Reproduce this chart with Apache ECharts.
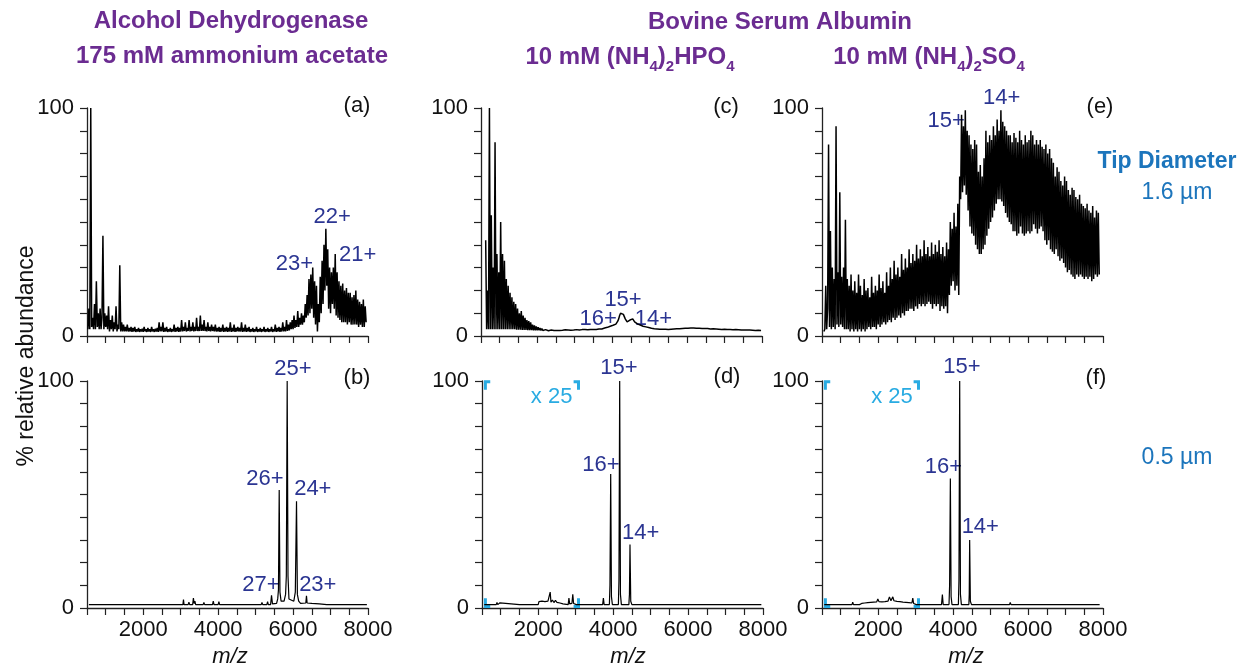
<!DOCTYPE html>
<html>
<head>
<meta charset="utf-8">
<script src="https://cdn.jsdelivr.net/npm/echarts@6/dist/echarts.min.js"></script>
<style>
    html, body { margin: 0; padding: 0; background: #fff; }
    #main { width: 1246px; height: 668px; }
</style>
</head>
<body>
<div id="main"></div>
<script>
    // dense spectra (a), (c), (e): one value every 25 m/z starting at 500, 20 values per row (= 500 m/z)
    var mzStart = 500, mzStep = 25;

    var specA = [
        null, 3, 12, 3, 100, 4, 8, 3, 14, 3, 24, 4, 10, 3, 12, 3, 8, 44, 3, 10,
        4, 9, 3, 13, 2, 7, 3, 9, 2, 6, 3, 13, 2, 5, 3, 31, 2, 6, 2, 5,
        2, 4, 2, 5, 2, 3.5, 2, 4, 1.8, 3.5, 2, 4, 1.8, 3, 2, 3.5, 1.8, 3, 2, 3.2,
        1.8, 4, 2, 3, 1.8, 3.5, 2, 3, 1.8, 4, 2, 3, 1.8, 3.2, 2, 3.5, 1.8, 6, 2, 4,
        2, 6, 1.8, 3.5, 2, 4, 1.8, 3, 2, 3.5, 1.8, 3, 2, 5, 1.8, 3.5, 2, 4, 1.8, 3.5,
        2, 7, 2, 4, 2.2, 6, 2, 3.5, 2.2, 7, 2, 4, 2.2, 6, 2, 4, 2.2, 8, 2.2, 4,
        2.2, 9, 2.2, 5, 2.2, 7, 2.2, 4, 2, 6, 2.2, 4, 2, 5, 2.2, 4, 2, 5, 2, 3.5,
        2, 4, 1.8, 3.5, 2, 5, 1.8, 3.5, 2, 4, 1.8, 3.5, 2, 6, 1.8, 3.5, 2, 5, 1.8, 3.5,
        2, 4, 2, 3.5, 2, 6, 1.8, 3.5, 2, 5, 1.8, 3.5, 2, 4, 1.8, 3, 2, 3.5, 1.8, 3,
        2, 4, 1.8, 3, 2, 3.5, 1.8, 3, 2, 4, 1.8, 3, 2, 3.5, 1.8, 3, 2, 4, 1.8, 3,
        2, 5, 1.8, 3.5, 2, 4, 1.8, 3.5, 2, 6, 2, 4, 2, 7, 2.2, 5, 2.5, 6, 3, 7,
        3, 9, 3.5, 7, 4, 11, 4, 8, 5, 10, 5, 9, 6, 14, 8, 18, 9, 25, 10, 27,
        12, 30, 8, 24, 5, 22, 2, 14, 6, 26, 10, 33, 14, 40, 20, 47, 22, 38, 12, 30,
        10, 28, 14, 30, 12, 36, 9, 28, 8, 24, 7, 22, 6, 23, 6, 20, 6, 21, 5, 19,
        6, 19, 5, 17, 5, 18, 5, 20, 5, 16, 4, 15, 5, 14, 4, 16, 4, 13, 6, null
    ];

    var specC = [
        null, null, null, null, null, 42, 3, 20, 3, 100, 3, 53, 3, 30, 3, 85, 3, 36, 3, 28,
        3, 50, 3, 36, 3, 33, 3, 25, 3, 22, 3, 19, 3, 17, 3, 15, 3, 14, 2.8, 12,
        2.8, 10, 2.8, 11, 2.7, 9, 2.7, 8, 2.7, 7, 2.6, 6.5, 2.6, 6, 2.6, 5, 2.5, 4.6, 2.5, 4.2,
        2.5, 3.8, 2.5, 3.5, 2.4, 3.3, 2.4, 3, 2.4, 2.8, 2.4, 2.7, 2.3, 2.6, 2.3, 2.6, 2.4, 2.5, 2.4, 2.5,
        2.3, 2.4, 2.5, 2.4, 2.4, 2.5, 2.6, 2.5, 2.5, 2.6, 2.7, 2.6, 2.5, 2.6, 2.6, 2.5, 2.5, 2.6, 2.7, 2.6,
        2.6, 2.7, 2.8, 2.7, 2.7, 2.6, 2.6, 2.7, 2.8, 2.8, 2.7, 2.8, 2.9, 2.8, 2.7, 2.7, 2.8, 2.9, 2.9, 2.8,
        2.8, 2.9, 3, 2.9, 2.9, 3, 3.1, 3, 3, 3.1, 3.3, 3.2, 3.5, 3.4, 3.6, 3.8, 4, 4.2, 4.3, 4.4,
        4.5, 4.7, 5, 5.1, 5.2, 5.6, 6.5, 7.5, 9, 10, 10.8, 10.2, 9.5, 8.5, 7.5, 6.8, 6.2, 5.8, 6.2, 7,
        7.6, 7.8, 7.5, 6.8, 6.2, 5.8, 5.5, 5.3, 5.2, 5, 4.8, 4.6, 4.5, 4.3, 4.2, 4.1, 4, 3.9, 3.8, 3.7,
        3.6, 3.5, 3.4, 3.3, 3.2, 3.2, 3.2, 3.1, 3.1, 3.1, 3, 3, 3, 3, 3, 2.9, 2.9, 3, 3, 2.9,
        2.9, 3, 3, 3, 3, 3.1, 3.1, 3.1, 3.1, 3.2, 3.2, 3.2, 3.2, 3.3, 3.3, 3.3, 3.3, 3.4, 3.4, 3.3,
        3.3, 3.4, 3.4, 3.5, 3.5, 3.4, 3.4, 3.5, 3.5, 3.4, 3.4, 3.5, 3.5, 3.4, 3.4, 3.3, 3.3, 3.4, 3.4, 3.3,
        3.2, 3.3, 3.3, 3.2, 3.2, 3.1, 3.1, 3.2, 3.2, 3.1, 3, 3.1, 3.1, 3, 3, 3, 3, 2.9, 2.9, 3,
        3, 2.9, 2.8, 2.9, 2.9, 2.8, 2.8, 2.8, 2.8, 2.7, 2.7, 2.8, 2.8, 2.7, 2.7, 2.7, 2.7, 2.6, 2.6, 2.7,
        2.7, 2.6, 2.6, 2.6, 2.6, 2.5, 2.5, 2.6, 2.6, 2.5, 2.5, 2.5, 2.5, 2.4, 2.4, 2.5, 2.5, 2.4, 2.4, 2.4
    ];

    var specE = [
        null, null, 2, 3, 22, 3, 12, 84, 4, 46, 3, 30, 4, 25, 3, 92, 5, 28, 4, 63,
        5, 26, 4, 30, 3, 51, 3, 25, 3, 22, 2, 27, 3, 20, 2, 24, 3, 19, 2, 27,
        3, 22, 2, 18, 3, 25, 2, 20, 3, 21, 4, 17, 3, 26, 4, 19, 4, 22, 3, 20,
        5, 27, 4, 21, 5, 24, 6, 19, 5, 28, 6, 22, 7, 30, 6, 25, 8, 33, 7, 27,
        8, 30, 9, 26, 8, 36, 10, 29, 9, 34, 11, 30, 11, 38, 12, 32, 12, 36, 11, 33,
        13, 40, 12, 34, 14, 38, 13, 35, 14, 42, 13, 36, 14, 39, 15, 35, 14, 41, 12, 36,
        14, 40, 13, 37, 14, 42, 11, 36, 13, 39, 12, 35, 13, 41, 10, 38, 18, 50, 22, 47,
        24, 54, 20, 48, 22, 58, 18, 70, 60, 97, 63, 92, 66, 99, 62, 90, 55, 88, 48, 84,
        45, 82, 44, 86, 40, 84, 38, 72, 36, 75, 36, 70, 38, 78, 40, 90, 44, 85, 47, 88,
        50, 86, 52, 92, 55, 88, 58, 95, 60, 90, 60, 99, 59, 94, 57, 92, 54, 90, 52, 88,
        50, 88, 49, 85, 46, 89, 46, 87, 44, 85, 45, 90, 48, 86, 45, 84, 44, 88, 45, 85,
        46, 86, 45, 90, 46, 88, 49, 84, 47, 86, 45, 84, 47, 86, 48, 83, 46, 82, 42, 84,
        40, 80, 42, 82, 38, 78, 37, 76, 36, 70, 38, 74, 35, 72, 33, 68, 34, 66, 32, 70,
        30, 68, 28, 64, 29, 62, 27, 65, 26, 64, 25, 61, 27, 60, 26, 62, 27, 58, 26, 57,
        25, 56, 26, 58, 25, 55, 26, 54, 24, 57, 25, 52, 27, 55, 26, 54, 27, null, null, null
    ];

    // sparse spectra (b), (d), (f): [m/z, % relative abundance]
    var specB = [
        [550,1.5],[800,1.5],[820,2.1],[840,1.5],[1000,1.5],[1020,2.2],[1040,1.5],[1200,1.5],[1220,2],[1240,1.5],
        [1500,1.5],[1520,1.9],[1540,1.5],[2600,1.5],[2620,2.1],[2640,1.5],[2900,1.5],[2920,2.2],[2940,1.5],
        [3060,1.5],[3075,3.7],[3090,1.5],[3200,1.5],[3220,2.6],[3240,1.5],[3320,1.5],[3340,4.4],[3360,2],[3380,3],[3400,1.5],
        [3600,1.5],[3620,2.4],[3640,1.5],[3850,1.5],[3870,3],[3890,1.5],[4000,1.5],[4020,2.8],[4040,1.5],
        [4200,1.5],[4220,2.2],[4240,1.5],[4500,1.5],[4520,2.3],[4540,1.5],[4800,1.5],[4820,2.1],[4840,1.5],
        [5150,1.5],[5170,2.4],[5190,1.5],[5300,1.5],[5320,2.8],[5340,1.5],[5400,1.5],[5425,5.6],[5450,1.8],
        [5560,2],[5590,4],[5610,8],[5630,52],[5650,7],[5680,3],[5760,3],[5800,6],[5820,14],[5843,100],[5865,14],[5890,4],
        [6020,3],[6060,7],[6092,47],[6115,6],[6150,3],[6200,2],[6340,2.2],[6358,5.4],[6375,2.2],
        [6500,2],[6520,2.6],[6540,1.8],[6700,1.8],[6720,2.2],[6740,1.5],[6900,1.5],[6920,1.9],[6940,1.5],
        [7200,1.5],[7220,1.8],[7240,1.5],[7555,1.5],[7573,2.2],[7590,1.5],[7970,1.5]
    ];

    var specD = [
        [560,1.5],[880,1.5],[900,2.5],[920,1.5],[960,1.5],[980,2.3],[1000,1.5],[1500,1.5],[1520,2.3],[1540,1.5],
        [1700,1.5],[1720,2],[1740,1.5],[2000,1.5],[2020,2.8],[2060,2.2],[2100,3],[2140,2.4],[2180,2.8],[2220,2.5],
        [2260,3],[2300,2.4],[2320,7],[2340,2.6],[2380,3.5],[2420,2.4],[2460,3.4],[2500,2.5],[2540,3.2],[2580,2.2],
        [2620,2.8],[2660,1.8],[2700,1.5],[2800,1.5],[2820,4.4],[2840,1.8],[2880,2.5],[2900,2],[2923,6],[2945,2],
        [2980,2.8],[3020,1.5],[3720,1.5],[3740,4.4],[3760,1.5],[3900,1.5],[3915,10],[3935,59],[3955,5],[3980,1.5],
        [4140,1.5],[4155,12],[4175,100],[4195,6],[4220,1.5],[4420,1.5],[4435,6],[4450,28],[4470,3],[4500,1.5],
        [4800,1.5],[4820,2],[4840,1.5],[5560,1.5],[5580,2.3],[5600,1.5],[5800,1.5],[5820,1.9],[5840,1.5],[7956,1.5]
    ];

    var specF = [
        [560,1.5],[750,1.5],[770,2],[790,1.5],[950,1.5],[970,1.9],[990,1.5],[1300,1.5],[1320,2.6],[1340,1.5],
        [1500,1.5],[1520,2.3],[1560,2],[1600,2.6],[1640,2.2],[1680,2.8],[1720,2.4],[1760,2.9],[1800,2.5],[1840,3],
        [1880,2.6],[1920,3.2],[1960,2.7],[1990,4],[2020,2.8],[2060,3.2],[2100,2.7],[2140,3.3],[2180,2.8],[2220,3.6],
        [2260,3],[2300,4.9],[2340,3.2],[2390,4.9],[2420,3.2],[2460,3.8],[2500,2.9],[2540,3.6],[2580,2.8],[2620,3.3],
        [2660,2.6],[2700,3.2],[2740,2.5],[2780,3],[2820,2.4],[2860,2.8],[2900,2.2],[2923,4.4],[2945,2],[2980,2.4],
        [3020,1.5],[3690,1.5],[3713,5.9],[3735,1.5],[3890,1.5],[3906,10],[3926,57],[3946,5],[3970,1.5],
        [4140,1.5],[4155,12],[4175,100],[4195,6],[4220,1.5],[4420,1.5],[4430,6],[4441,30],[4460,3],[4490,1.5],
        [4770,1.5],[4787,2],[4805,1.5],[5300,1.5],[5320,1.8],[5340,1.5],[5505,1.5],[5524,2.4],[5545,1.5],
        [5745,1.5],[5763,2.3],[5780,1.5],[7910,1.5]
    ];

    // charge state labels: [text, m/z, %]
    var chargeA = [['22+', 7046, 52.3], ['23+', 6034, 31.5], ['21+', 7725, 35.5]];
    var chargeB = [['25+', 5994, 105.4], ['26+', 5248, 56.8], ['24+', 6527, 52.4], ['27+', 5141, 10], ['23+', 6660, 10]];
    var chargeC = [['15+', 4291, 15.9], ['16+', 3626, 7.7], ['14+', 5102, 7.7]];
    var chargeD = [['15+', 4152, 105.8], ['16+', 3673, 63.2], ['14+', 4738, 33.1]];
    var chargeE = [['15+', 3812, 94.4], ['14+', 5297, 104.3]];
    var chargeF = [['15+', 4232, 106.3], ['16+', 3740, 62.1], ['14+', 4725, 35.7]];

    // magnified (x 25) region in (d) and (f)
    var zoomBoxMz = [590, 3075];
    var zoomBoxPct = [0.7, 99.7];
    var zoomTagD = ['x 25', 2357, 92.8];
    var zoomTagF = ['x 25', 2369, 92.8];

    // x ticks
    var mzMin = 500, mzMax = 8000, mzTick = 500, mzLabelEvery = 2000;

    var FONT = '"Liberation Sans", Arial, Helvetica, sans-serif';
    var PURPLE = '#6b2c91';
    var CHARGE = '#2b3592';
    var TIP = '#1c75bc';
    var CYAN = '#29abe2';
    var AXIS = '#222';

    function onGrid(vals) {
        return vals.map(function (v, i) { return [mzStart + i * mzStep, v]; });
    }

    var panels = [
        {left: 87,  top: 108, height: 228, data: onGrid(specA), labels: chargeA, bottom: false, lw: 1.5},
        {left: 87,  top: 381, height: 227, data: specB, labels: chargeB, bottom: true, lw: 1.2},
        {left: 481, top: 108, height: 228, data: onGrid(specC), labels: chargeC, bottom: false, lw: 1.5},
        {left: 482, top: 381, height: 227, data: specD, labels: chargeD, bottom: true, lw: 1.2, tag: zoomTagD},
        {left: 822, top: 108, height: 228, data: onGrid(specE), labels: chargeE, bottom: false, lw: 1.5},
        {left: 822, top: 381, height: 227, data: specF, labels: chargeF, bottom: true, lw: 1.2, tag: zoomTagF}
    ];

    function brackets() {
        var x0 = zoomBoxMz[0], x1 = zoomBoxMz[1], y0 = zoomBoxPct[0], y1 = zoomBoxPct[1];
        var ax = 130, ay = 3.6;
        return [
            {coords: [[x0 + ax, y1], [x0, y1], [x0, y1 - ay]]},
            {coords: [[x1 - ax, y1], [x1, y1], [x1, y1 - ay]]},
            {coords: [[x0, y0 + ay], [x0, y0], [x0 + ax, y0]]},
            {coords: [[x1 - ax, y0], [x1, y0], [x1, y0 + ay]]}
        ];
    }

    function textSeries(i, items, color) {
        return {
            type: 'scatter', xAxisIndex: i, yAxisIndex: i, symbolSize: 0, clip: false,
            animation: false, silent: true,
            itemStyle: {opacity: 1},
            data: items.map(function (l) { return {name: l[0], value: [l[1], l[2]]}; }),
            label: {show: true, position: 'inside', formatter: '{b}', color: color, opacity: 1,
                fontSize: 22, fontFamily: FONT}
        };
    }

    var grids = [], xAxes = [], yAxes = [], series = [];
    panels.forEach(function (p, i) {
        grids.push({left: p.left, top: p.top, width: 281, height: p.height});
        xAxes.push({
            type: 'value', gridIndex: i, min: mzMin, max: mzMax, interval: mzTick,
            axisLine: {show: true, onZero: false, lineStyle: {color: AXIS, width: 1.3}},
            axisTick: {show: true, length: 7, lineStyle: {color: AXIS, width: 1.2}},
            splitLine: {show: false},
            axisLabel: {
                show: p.bottom, margin: 11, color: '#111', fontSize: 22, fontFamily: FONT,
                formatter: function (v) { return v % mzLabelEvery === 0 ? String(v) : ''; }
            }
        });
        yAxes.push({
            type: 'value', gridIndex: i, min: 0, max: 100, interval: 10,
            axisLine: {show: true, onZero: false, lineStyle: {color: AXIS, width: 1.3}},
            axisTick: {show: true, length: 7, lineStyle: {color: AXIS, width: 1.2}},
            splitLine: {show: false},
            axisLabel: {
                margin: 13, color: '#111', fontSize: 22, fontFamily: FONT,
                formatter: function (v) { return (v === 0 || v === 100) ? String(v) : ''; }
            }
        });
        series.push({
            type: 'line', xAxisIndex: i, yAxisIndex: i, data: p.data,
            symbol: 'none', connectNulls: false, animation: false, silent: true,
            lineStyle: {color: '#000', width: p.lw}
        });
        series.push(textSeries(i, p.labels, CHARGE));
        if (p.tag) {
            series.push({
                type: 'lines', coordinateSystem: 'cartesian2d', xAxisIndex: i, yAxisIndex: i,
                polyline: true, animation: false, silent: true,
                lineStyle: {color: CYAN, width: 3, opacity: 1},
                data: brackets()
            });
            series.push(textSeries(i, [p.tag], CYAN));
        }
    });

    function txt(x, y, text, opts) {
        var style = {
            text: text, x: 0, y: 0,
            fill: opts.color || '#111',
            font: (opts.italic ? 'italic ' : '') + (opts.bold ? 'bold ' : '') + (opts.size || 22) + 'px ' + FONT,
            align: 'center', verticalAlign: 'middle', textAlign: 'center', textVerticalAlign: 'middle'
        };
        if (opts.rich) {
            style.rich = opts.rich;
            style.lineHeight = 34;
        }
        return {type: 'text', x: x, y: y, rotation: opts.rotation || 0, silent: true, style: style};
    }

    var subRich = {
        s: {fontSize: 15, fontWeight: 'bold', fontFamily: FONT, fill: PURPLE, color: PURPLE,
            lineHeight: 15, verticalAlign: 'bottom'}
    };

    var graphics = [
        txt(231, 21, 'Alcohol Dehydrogenase', {bold: true, size: 24, color: PURPLE}),
        txt(232, 56, '175 mM ammonium acetate', {bold: true, size: 24, color: PURPLE}),
        txt(780, 22, 'Bovine Serum Albumin', {bold: true, size: 24, color: PURPLE}),
        txt(630, 57, '10 mM (NH{s|4}){s|2}HPO{s|4}', {bold: true, size: 24, color: PURPLE, rich: subRich}),
        txt(929, 57, '10 mM (NH{s|4}){s|2}SO{s|4}', {bold: true, size: 24, color: PURPLE, rich: subRich}),
        txt(357, 106, '(a)', {}),
        txt(357, 378, '(b)', {}),
        txt(726, 107, '(c)', {}),
        txt(727, 377, '(d)', {}),
        txt(1100, 107, '(e)', {}),
        txt(1096, 378, '(f)', {}),
        txt(1167, 162, 'Tip Diameter', {bold: true, size: 23, color: TIP}),
        txt(1177, 193, '1.6 µm', {size: 23, color: TIP}),
        txt(1177, 458, '0.5 µm', {size: 23, color: TIP}),
        txt(27, 356, '% relative abundance', {size: 23, rotation: Math.PI / 2}),
        txt(230, 657, 'm/z', {italic: true, size: 22}),
        txt(628, 657, 'm/z', {italic: true, size: 22}),
        txt(966, 657, 'm/z', {italic: true, size: 22})
    ];

    var chart = echarts.init(document.getElementById('main'));
    chart.setOption({
        backgroundColor: '#fff',
        animation: false,
        grid: grids,
        xAxis: xAxes,
        yAxis: yAxes,
        series: series,
        graphic: graphics
    });
</script>
</body>
</html>
